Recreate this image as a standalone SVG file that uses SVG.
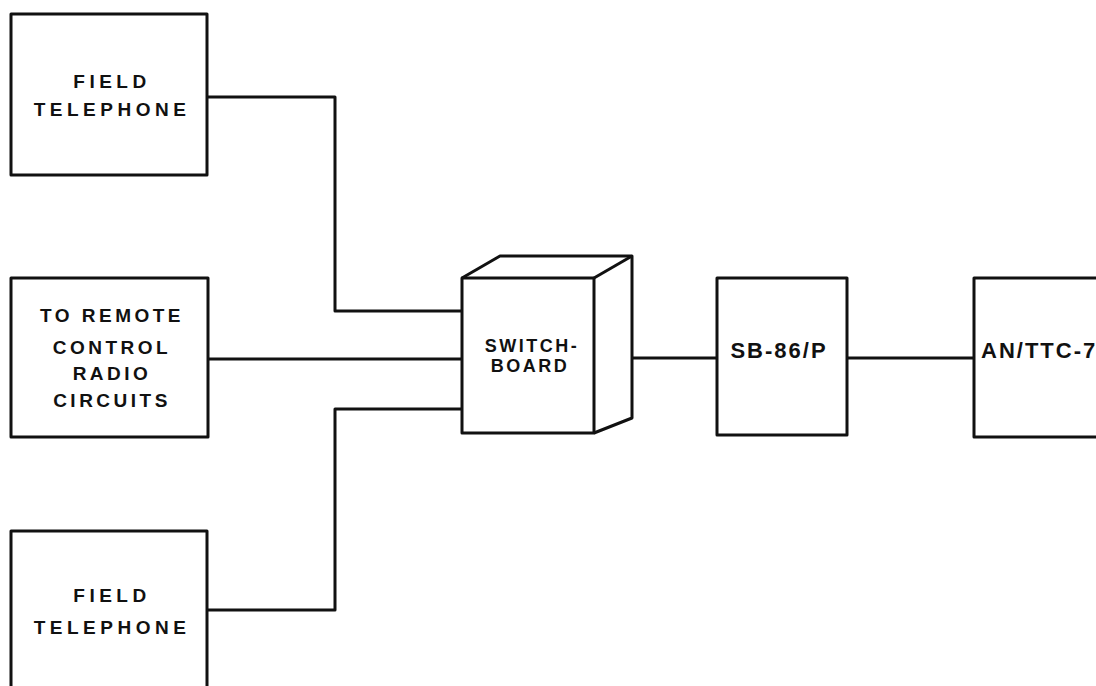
<svg xmlns="http://www.w3.org/2000/svg" width="1096" height="686" viewBox="0 0 1096 686">
<style>
.box{fill:none;stroke:#111;stroke-width:3;stroke-linejoin:round}
.wire{fill:none;stroke:#111;stroke-width:3;stroke-linejoin:round}
.t{font-family:"Liberation Sans",Arial,sans-serif;font-weight:bold;fill:#111;text-anchor:middle}
.ft{font-size:19px;letter-spacing:4.5px}
.rc{font-size:19px;letter-spacing:3.5px}
.sw{font-size:18px;letter-spacing:2.5px}
.sb{font-size:22px;letter-spacing:2px}
</style>
<rect width="1096" height="686" fill="#fff"/>
<g id="connectors">
<polyline class="wire" points="207,97 335,97 335,311 462,311"/>
<line class="wire" x1="208" y1="359" x2="462" y2="359"/>
<polyline class="wire" points="207,610 335,610 335,409 462,409"/>
<line class="wire" x1="632" y1="358" x2="717" y2="358"/>
<line class="wire" x1="847" y1="358" x2="974" y2="358"/>
</g>
<g id="field-telephone-1">
<rect class="box" x="11" y="14" width="196" height="161"/>
<text class="t ft" x="112" y="88">FIELD</text>
<text class="t ft" x="112" y="116">TELEPHONE</text>
</g>
<g id="remote-control">
<rect class="box" x="11" y="278" width="197" height="159"/>
<text class="t rc" x="112" y="322">TO REMOTE</text>
<text class="t rc" x="112" y="354">CONTROL</text>
<text class="t rc" x="112" y="380">RADIO</text>
<text class="t rc" x="112" y="407">CIRCUITS</text>
</g>
<g id="field-telephone-2">
<path class="box" d="M11,690 V531 H207 V690"/>
<text class="t ft" x="112" y="602">FIELD</text>
<text class="t ft" x="112" y="634">TELEPHONE</text>
</g>
<g id="switchboard">
<rect class="box" x="462" y="278" width="132" height="155"/>
<polyline class="box" points="462,278 500,256 632,256 632,418 594,433"/>
<line class="box" x1="594" y1="278" x2="632" y2="256"/>
<text class="t sw" x="532" y="352">SWITCH-</text>
<text class="t sw" x="530" y="372">BOARD</text>
</g>
<g id="sb-86p">
<rect class="box" x="717" y="278" width="130" height="157"/>
<text class="t sb" x="779" y="358">SB-86/P</text>
</g>
<g id="an-ttc-7">
<path class="box" d="M1100,278 H974 V437 H1100"/>
<text class="t sb" x="981" y="358" style="text-anchor:start">AN/TTC-7</text>
</g>
</svg>
